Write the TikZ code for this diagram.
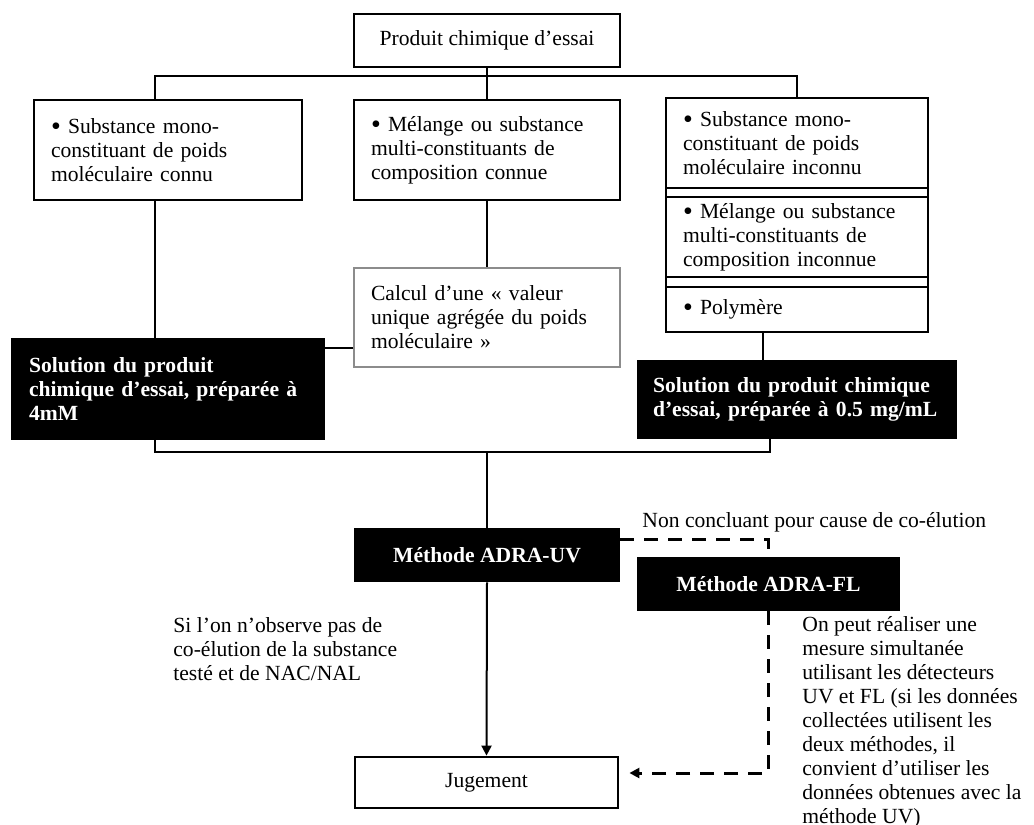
\documentclass[tikz,border=0pt]{standalone}
\usepackage{fontspec}
\setmainfont{Liberation Serif}
\usetikzlibrary{arrows.meta,positioning,calc}
\definecolor{ink}{RGB}{0,0,0}
\definecolor{frame}{RGB}{140,140,140}
\newcommand\dotmark{\raisebox{-1pt}{\fontsize{14}{12}\selectfont•}}
\tikzset{
  >={Triangle[length=5pt,width=5pt]},
  box/.style={draw=#1,line width=1.4pt,inner xsep=8.5pt,inner ysep=0pt,
    align=left,font=\fontsize{10.8}{12}\selectfont},
  box/.default=ink,
  part/.style={box,outer sep=0pt,text width=114pt},
  solid box/.style={fill=ink,text=white,inner xsep=9pt,inner ysep=0pt,
    align=left,font=\fontsize{10.8}{12}\selectfont\bfseries},
  flow/.style={line width=1pt,draw=ink},
  dash flow/.style={line width=1.5pt,draw=ink,dash pattern=on 7pt off 5pt},
  note/.style={font=\fontsize{10.8}{12}\selectfont,align=left,inner sep=0pt},
}

\begin{document}
\begin{tikzpicture}[x=0.5pt,y=-0.5pt]
  \useasboundingbox (0,0) rectangle (1034,825);
  \fill[white] (0,0) rectangle (1034,825);

  \node[box,align=center,minimum width=133pt,minimum height=26.5pt] (essai) at (487,40.5) {Produit chimique d’essai};

  \node[box,text width=117pt,minimum height=50pt] (prod1) at (168,150)
    {\dotmark{} Substance mono-\\constituant de poids\\moléculaire connu};
  \node[box,text width=116pt,minimum height=50pt] (prod2) at (487,150)
    {\dotmark{} Mélange ou substance\\multi-constituants de\\composition connue};

  % right column, three stacked parts
  \node[part,minimum height=45pt] (r1) at (797,143)
    {\dotmark{} Substance mono-\\constituant de poids\\moléculaire inconnu};
  \node[part,minimum height=40pt] (r2) at (797,237)
    {\dotmark{} Mélange ou substance\\multi-constituants de\\composition inconnue};
  \node[part,minimum height=22.5pt] (r3) at (797,309.5) {\dotmark{} Polymère};
  \draw[line width=1.4pt] (r1.north west) -- (r3.south west) (r1.north east) -- (r3.south east);

  \node[box=frame,line width=0.7pt,text width=116pt,minimum height=49.5pt] (calc) at (487,317.5)
    {Calcul d’une « valeur\\unique agrégée du poids\\moléculaire »};

  \node[solid box,text width=139pt,minimum height=51pt] (solL) at (168,389)
    {Solution du produit\\chimique d’essai, préparée à\\4mM};
  \node[solid box,inner xsep=8pt,text width=144pt,minimum height=39.5pt] (solR) at (797,399.5)
    {Solution du produit chimique\\d’essai, préparée à 0.5 mg/mL};

  \node[solid box,align=center,minimum width=133pt,minimum height=27pt] (uv) at (487,555) {Méthode ADRA-UV};
  \node[solid box,align=center,minimum width=131.5pt,minimum height=27pt] (fl) at (768.5,584) {Méthode ADRA-FL};
  \node[box,align=center,minimum width=131.5pt,minimum height=25.5pt] (jug) at (486.5,782.5) {Jugement};

  \node[note,anchor=west] (noco) at (173,649)
    {Si l’on n’observe pas de\\co-élution de la substance\\testé et de NAC/NAL};
  \node[note,anchor=west] (inconc) at (642,522) {Non concluant pour cause de co-élution};
  \node[note,anchor=west] (simul) at (802,722)
    {On peut réaliser une\\mesure simultanée\\utilisant les détecteurs\\UV et FL (si les données\\collectées utilisent les\\deux méthodes, il\\convient d’utiliser les\\données obtenues avec la\\méthode UV)};

  \coordinate (busL) at (155,76);
  \coordinate (busR) at (797,76);
  \coordinate (joinL) at (155,452);
  \coordinate (joinR) at (770,452);
  \coordinate (pipeR) at (763,0);

  \draw[flow] (busL |- prod1.north) -- (busL) -- (busR) -- (r1.north);
  \draw[flow] (essai.south) -- (prod2.north);
  \draw[flow] (busL |- prod1.south) -- (busL |- solL.north);
  \draw[flow] (prod2.south) -- (calc.north);
  \draw[flow] ([yshift=-15.25pt]calc.west) -- ([yshift=-15.25pt]calc.west -| solL.east);
  \draw[flow] (pipeR |- r3.south) -- (pipeR |- solR.north);
  \draw[flow] (joinL |- solL.south) -- (joinL) -- (joinR) -- (joinR |- solR.south);
  \draw[flow] (uv.north |- joinL) -- (uv.north);
  \draw[flow,->] (uv.south) -- (jug.north);

  \draw[dash flow] ([yshift=8pt]uv.east) -| (fl.north);
  \draw[dash flow,->] (fl.south) |- ([xshift=5pt,yshift=4.75pt]jug.east);
\end{tikzpicture}
\end{document}
